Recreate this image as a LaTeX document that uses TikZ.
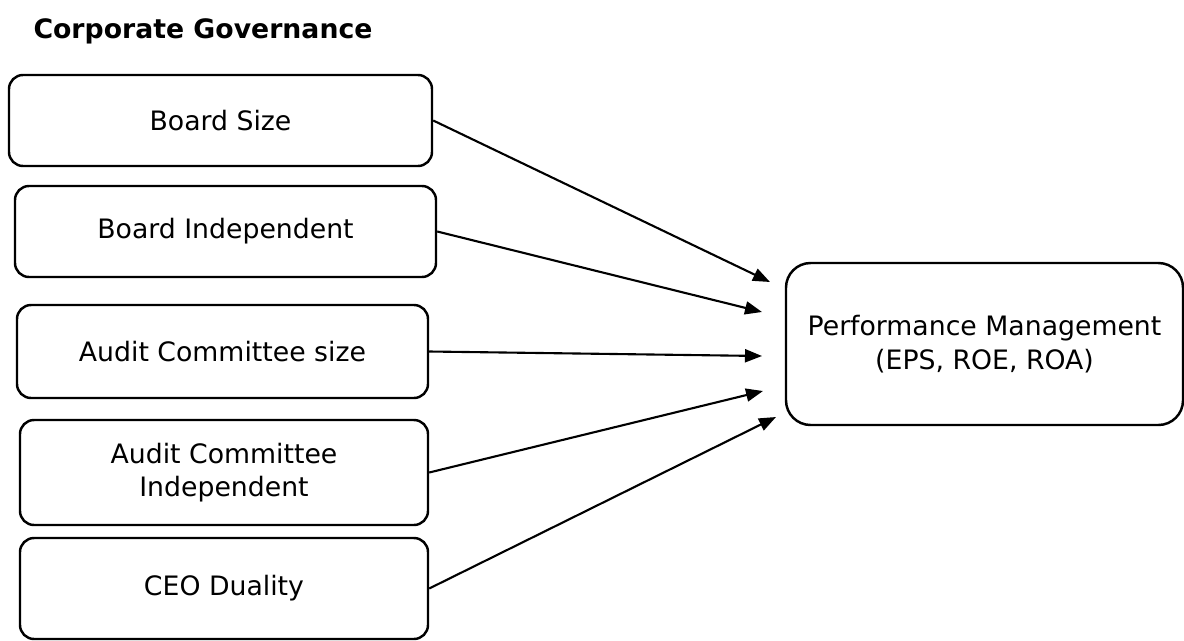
\documentclass[tikz,border=0pt]{standalone}
\usepackage{fontspec}
\setmainfont{DejaVu Sans}
\usetikzlibrary{arrows.meta,positioning}

\begin{document}
\begin{tikzpicture}[>={Triangle[length=0.17cm,width=0.13cm]},font=\fontsize{7.6}{9.6}\selectfont,x=1.000cm,y=1.000cm,
 box/.style={draw,line width=0.7pt,rounded corners=4pt,align=center,inner sep=2pt},
 big/.style={box,rounded corners=7pt},
 link/.style={->,line width=0.6pt}]
\useasboundingbox (0,0) rectangle (11.84,6.40);
\node[font=\fontsize{7.6}{9.6}\selectfont\bfseries] (title) at (2.030,6.090) {Corporate Governance};
\node[box,minimum width=4.230cm,minimum height=0.910cm] (bs) at (2.205,5.195) {Board Size};
\node[box,minimum width=4.210cm,minimum height=0.910cm] (bi) at (2.255,4.085) {Board Independent};
\node[box,minimum width=4.110cm,minimum height=0.930cm] (acs) at (2.225,2.885) {Audit Committee size};
\node[box,minimum width=4.080cm,minimum height=1.050cm] (aci) at (2.240,1.675) {Audit Committee\\Independent};
\node[box,minimum width=4.080cm,minimum height=1.010cm] (ceo) at (2.240,0.515) {CEO Duality};
\node[big,minimum width=3.970cm,minimum height=1.620cm] (pm) at (9.845,2.960) {Performance Management\\(EPS, ROE, ROA)};
\coordinate (t1) at (7.700,3.580);
\coordinate (t2) at (7.620,3.280);
\coordinate (t3) at (7.620,2.840);
\coordinate (t4) at (7.630,2.490);
\coordinate (t5) at (7.760,2.230);
\draw[link] (bs.east) -- (t1);
\draw[link] (bi.east) -- (t2);
\draw[link] (acs.east) -- (t3);
\draw[link] (aci.east) -- (t4);
\draw[link] (ceo.east) -- (t5);
\end{tikzpicture}
\end{document}
